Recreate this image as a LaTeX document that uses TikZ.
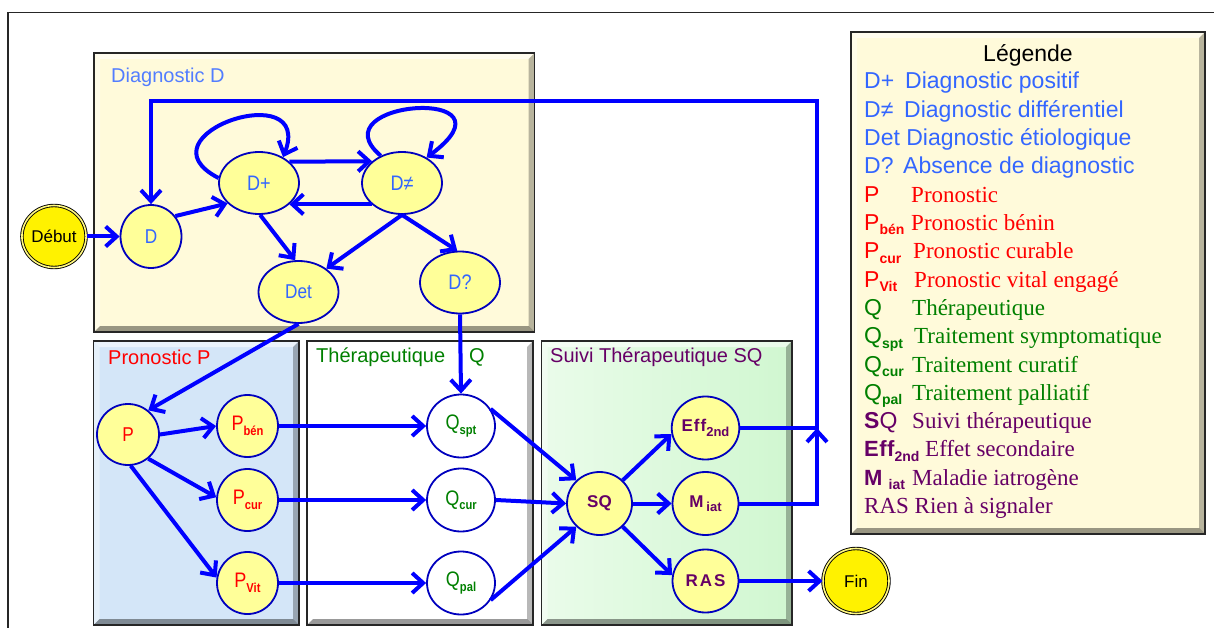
\documentclass[tikz,border=0pt]{standalone}
\usepackage{fontspec}
\setmainfont{Liberation Sans}
\newfontfamily\tnr{Liberation Serif}
\newfontfamily\narrowf[FakeStretch=0.86]{Liberation Sans}
\usetikzlibrary{arrows.meta,shapes.geometric}
\definecolor{dblue}{RGB}{51,102,255}
\definecolor{lblue}{RGB}{0,0,255}
\definecolor{nborder}{RGB}{0,0,190}
\definecolor{nfill}{RGB}{255,255,153}
\definecolor{pred}{RGB}{255,0,0}
\definecolor{qgreen}{RGB}{0,128,0}
\definecolor{spurple}{RGB}{102,0,102}
\definecolor{parch}{RGB}{255,250,218}
\definecolor{pblue}{RGB}{212,230,248}
\definecolor{sgreen}{RGB}{208,247,208}
\newcommand\fs[1]{\fontsize{#1}{#1}\selectfont}
\newcommand\nsb[1]{\raisebox{-4.5pt}{\fs{13}\bfseries #1}}
\newcommand\lsb[1]{\raisebox{-4.5pt}{\fs{14}\bfseries #1}}
\newcommand\bevelbox[5]{%
  \path[#5] (#1,#2) rectangle (#3,#4);
  \fill[white,opacity=.55] (#1,#2) -- (#3,#2) -- (#3-6,#2+6) -- (#1+6,#2+6) -- cycle;
  \fill[white,opacity=.4] (#1,#2) -- (#1+6,#2+6) -- (#1+6,#4-6) -- (#1,#4) -- cycle;
  \fill[black,opacity=.28] (#3,#2) -- (#3,#4) -- (#3-6,#4-6) -- (#3-6,#2+6) -- cycle;
  \fill[black,opacity=.4] (#1,#4) -- (#3,#4) -- (#3-6,#4-6) -- (#1+6,#4-6) -- cycle;
  \draw[black!85,line width=1.3pt] (#1,#2) rectangle (#3,#4);
}
\tikzset{
  stnode/.style={ellipse, draw=nborder, line width=1.8pt, fill=nfill, inner sep=0pt},
  dnode/.style={stnode, minimum width=80pt, minimum height=62pt, text=dblue, font=\narrowf\fs{21}},
  pnode/.style={stnode, minimum width=61pt, minimum height=62pt, text=pred, font=\narrowf\fs{21}},
  qnode/.style={stnode, fill=white, minimum width=68pt, minimum height=63pt, text=qgreen, font=\narrowf\fs{21}},
  snode/.style={stnode, minimum width=66pt, minimum height=63pt, text=spurple, font=\fs{17}\bfseries},
  termnode/.style={ellipse, draw=black, line width=.9pt, double=yellow!50!white, double distance=1.6pt,
    fill=yellow, inner sep=0pt, minimum width=63pt, minimum height=62pt, font=\fs{17}},
  arr/.style={draw=lblue, line width=4pt, -{Straight Barb[length=11pt,width=20pt]}},
  boxlabel/.style={anchor=west, inner sep=0pt, font=\fs{20}},
  leg/.style={anchor=base west, inner sep=0pt, font=\fs{23}},
  legd/.style={anchor=base west, inner sep=0pt, font=\tnr\fs{23}},
}
\begin{document}
\begin{tikzpicture}[x=1pt,y=-1pt]
\useasboundingbox (0,0) rectangle (1214,628);
\fill[white] (0,0) rectangle (1214,628);
\draw[black!85,line width=1.3pt] (8,628) -- (8,12.3) -- (1214,12.3);

% panels
\bevelbox{94}{53}{534.5}{332}{fill=parch}
\bevelbox{93.5}{341}{299}{625}{fill=pblue}
\bevelbox{307}{341}{533}{625}{fill=white}
\bevelbox{541.5}{341}{792}{625}{left color=sgreen!45, right color=sgreen}
\bevelbox{851}{32}{1205}{534}{fill=parch}

% panel labels
\node[boxlabel, text=dblue!85!white] (labD) at (111,77) {Diagnostic D};
\node[boxlabel, text=pred] (labP) at (108,357) {Pronostic P};
\node[boxlabel, text=qgreen] (labQ) at (316,357) {Thérapeutique};
\node[boxlabel, text=qgreen] (labQq) at (469,357) {Q};
\node[boxlabel, text=spurple] (labS) at (550,357) {Suivi Thérapeutique SQ};

% nodes
\node[termnode] (deb) at (54,236.5) {Début};
\node[dnode, minimum width=61pt, minimum height=63pt, font=\narrowf\fs{20}] (D) at (151,236.5) {D};
\node[dnode] (Dp) at (259,183) {D+};
\node[dnode] (Dn) at (402,183) {D≠};
\node[dnode, font=\narrowf\fs{20}] (Det) at (298.5,292) {Det};
\node[dnode] (Dq) at (460,282.5) {D?};

\node[pnode, minimum width=62pt, minimum height=61pt, font=\narrowf\fs{20}] (P) at (128,434.5) {P};
\node[pnode] (Pb) at (247.5,426) {P\nsb{bén}};
\node[pnode] (Pc) at (247.5,500) {P\nsb{cur}};
\node[pnode] (Pv) at (247.5,583) {P\nsb{Vit}};

\node[qnode] (Qs) at (461,426) {Q\nsb{spt}};
\node[qnode] (Qc) at (461,500) {Q\nsb{cur}};
\node[qnode] (Qp) at (461,583) {Q\nsb{pal}};

\node[snode, minimum width=65pt] (SQ) at (599.5,503.5) {SQ};
\node[snode] (Ef) at (705.5,428) {E\kern1pt f\kern1pt f\nsb{2nd}};
\node[snode] (Mi) at (705.5,503.5) {M\,\nsb{iat}};
\node[snode] (RA) at (705.5,581) {R\kern2pt A\kern2pt S};
\node[termnode, minimum width=66pt, minimum height=65pt] (Fin) at (856,581) {Fin};

\coordinate (J) at (817,428);
\coordinate (Rt) at (817,101.5);
\coordinate (Lt) at (151,101.5);

% connectors
\draw[arr] (deb.east) -- (D.west);
\draw[arr] (D.40) -- (Dp.213);
\draw[arr] (Dp.35.5) -- (Dn.144.5);
\draw[arr] (Dn.215.5) -- (Dp.-35.5);
\draw[arr] (Dp.173) .. controls (135,135) and (315,75) .. (Dp.47);
\draw[arr] (Dn.128) .. controls (315,100) and (525,85) .. (Dn.46);
\draw[arr] (Dp.-88) -- (Det.96);
\draw[arr] (Dn.-90) -- (Det.40);
\draw[arr] (Dn.-90) -- (Dq.95);
\draw[arr] (Dq.south) -- (Qs.north);
\draw[arr] (Det.south) -- (P.50);
\draw[arr] (P.east) -- (Pb.west);
\draw[arr] (P.-50) -- (Pc.175);
\draw[arr] (P.-85) -- (Pv.170);
\draw[arr] (Pb.east) -- (Qs.west);
\draw[arr] (Pc.east) -- (Qc.west);
\draw[arr] (Pv.east) -- (Qp.west);
\draw[arr] (Qs.30) -- (SQ.135);
\draw[arr] (Qc.east) -- (SQ.west);
\draw[arr] (Qp.-30) -- (SQ.225);
\draw[arr] (SQ.45) -- (Ef.190);
\draw[arr] (SQ.east) -- (Mi.west);
\draw[arr] (SQ.-45) -- (RA.170);
\draw[arr] (RA.east) -- (Fin.west);
\draw[arr] (Ef.east) -- (J) -- (Rt) -- (Lt) -- (D.north);
\draw[arr] (Mi.east) -| (J);

% legend
\node[anchor=base, inner sep=0pt, font=\fs{23}] (lgT) at (1028,61.5) {Légende};
\node[leg, text=dblue] (l1a) at (864,89) {D+};
\node[leg, text=dblue] (l1b) at (905,89) {Diagnostic positif};
\node[leg, text=dblue] (l2a) at (864,117.3) {D≠};
\node[leg, text=dblue] (l2b) at (904,117.3) {Diagnostic différentiel};
\node[leg, text=dblue] (l3a) at (864,145.6) {Det Diagnostic étiologique};
\node[leg, text=dblue] (l4a) at (864,173.9) {D?};
\node[leg, text=dblue] (l4b) at (903,173.9) {Absence de diagnostic};
\node[leg, text=pred] (l5a) at (864,202.2) {P};
\node[legd, text=pred] (l5b) at (911,202.2) {Pronostic};
\node[leg, text=pred] (l6a) at (864,230.5) {P\lsb{bén}};
\node[legd, text=pred] (l6b) at (911,230.5) {Pronostic bénin};
\node[leg, text=pred] (l7a) at (864,258.8) {P\lsb{cur}};
\node[legd, text=pred] (l7b) at (913,258.8) {Pronostic curable};
\node[leg, text=pred] (l8a) at (864,287.1) {P\lsb{Vit}};
\node[legd, text=pred] (l8b) at (914,287.1) {Pronostic vital engagé};
\node[leg, text=qgreen] (l9a) at (864,315.4) {Q};
\node[legd, text=qgreen] (l9b) at (912,315.4) {Thérapeutique};
\node[leg, text=qgreen] (l10a) at (864,343.7) {Q\lsb{spt}};
\node[legd, text=qgreen] (l10b) at (914,343.7) {Traitement symptomatique};
\node[leg, text=qgreen] (l11a) at (864,372) {Q\lsb{cur}};
\node[legd, text=qgreen] (l11b) at (912,372) {Traitement curatif};
\node[leg, text=qgreen] (l12a) at (864,400.3) {Q\lsb{pal}};
\node[legd, text=qgreen] (l12b) at (912,400.3) {Traitement palliatif};
\node[leg, text=spurple] (l13a) at (864,428.6) {\textbf{S}Q};
\node[legd, text=spurple] (l13b) at (912,428.6) {Suivi thérapeutique};
\node[leg, text=spurple, font=\fs{22}\bfseries] (l14a) at (864,456.9) {E\kern.5pt f\kern.5pt f\lsb{2nd}};
\node[legd, text=spurple] (l14b) at (925,456.9) {Effet secondaire};
\node[leg, text=spurple, font=\fs{22}\bfseries] (l15a) at (864,485.2) {M \lsb{iat}};
\node[legd, text=spurple] (l15b) at (912,485.2) {Maladie iatrogène};
\node[legd, text=spurple] (l16a) at (864,513.5) {RAS Rien à signaler};
\end{tikzpicture}
\end{document}
